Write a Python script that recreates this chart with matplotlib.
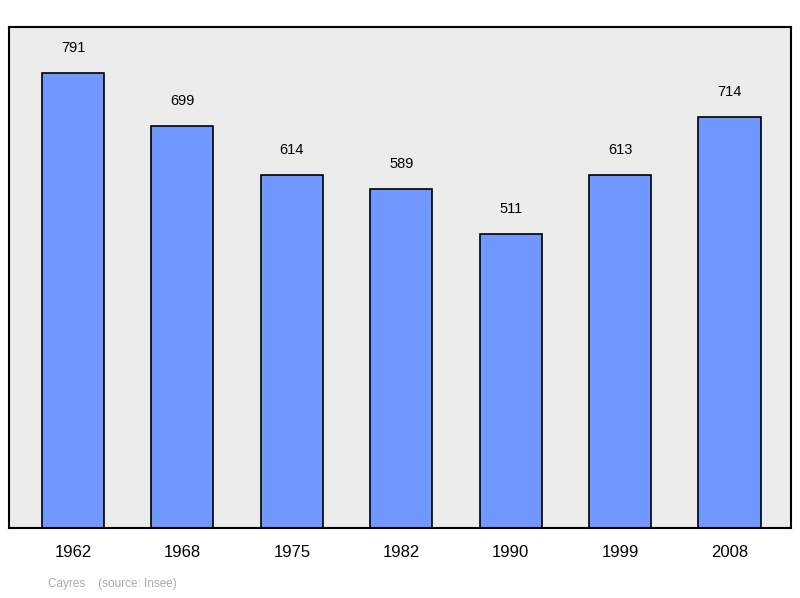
import matplotlib
matplotlib.use("Agg")
import matplotlib.pyplot as plt

years = ["1962", "1968", "1975", "1982", "1990", "1999", "2008"]
values = [791, 699, 614, 589, 511, 613, 714]

plt.rcParams['font.family'] = ['Liberation Sans', 'DejaVu Sans']
fig = plt.figure(figsize=(8, 5.98), dpi=100)
ax = fig.add_axes([9/800, 70/598, 782/800, 501/598])
ax.set_facecolor('#ececec')
x = list(range(len(years)))
ax.bar(x, values, width=0.567, color='#7098ff', edgecolor='black', linewidth=1.2)
for xi, v in zip(x, values):
    ax.annotate(str(v), (xi, v), xytext=(0, 13), textcoords='offset points',
                ha='center', va='bottom', fontsize=10.5)
ax.set_xlim(-0.585, 6.562)
ax.set_ylim(0, 871)
ax.set_yticks([])
ax.set_xticks(x)
ax.set_xticklabels(years, fontsize=12)
ax.tick_params(axis='x', length=0, pad=12)
for s in ax.spines.values():
    s.set_linewidth(1.5)
fig.text(48/800, 1-584/598, "Cayres    (source: Insee)", color='#aaaaaa',
         fontsize=8.5, va='center', ha='left')
fig.savefig("out.png", dpi=100)
